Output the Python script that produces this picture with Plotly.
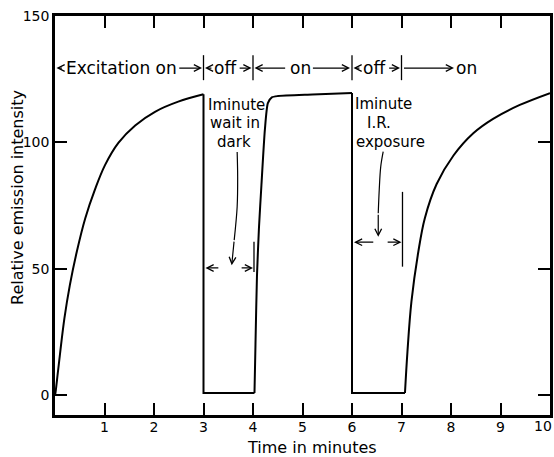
import plotly.graph_objects as go

# ---- data ----
# first excitation period: rise from 0
rise1_t = [0.0, 0.01, 0.067, 0.19, 0.30, 0.44, 0.61, 0.81, 1.01, 1.28, 1.62, 2.02, 2.49, 3.0]
rise1_y = [0.0, 1.0, 10.5, 30.3, 43.5, 56.7, 69.9, 81.5, 91.0, 99.8, 106.7, 112.1, 116.1, 119.0]
# 1 minute wait in dark
dark_t = [3.0, 3.0, 4.03]
dark_y = [119.0, 0.8, 0.8]
# second excitation period
rise2_t = [4.03, 4.05, 4.08, 4.12, 4.17, 4.24, 4.30, 4.38, 4.5, 5.2, 6.0]
rise2_y = [0.8, 20.0, 47.0, 66.0, 83.0, 105.0, 115.5, 117.8, 118.3, 118.9, 119.5]
# 1 minute I.R. exposure
ir_t = [6.0, 6.0, 7.07]
ir_y = [119.5, 0.8, 0.8]
# third excitation period
rise3_t = [7.07, 7.12, 7.20, 7.34, 7.47, 7.71, 8.05, 8.45, 8.85, 9.39, 10.0]
rise3_y = [0.8, 17.1, 36.9, 56.7, 69.9, 83.5, 94.8, 103.6, 109.3, 114.8, 119.5]

x_tick_vals = [1, 2, 3, 4, 5, 6, 7, 8, 9, 10]
x_tick_text = ["1", "2", "3", "4", "5", "6", "7", "8", "9", "10"]
y_tick_vals = [0, 50, 100, 150]
y_tick_text = ["0", "50", "100", "150"]

# phase labels along the top
phase_bounds = [3, 4, 6, 7]
phase_bar_y = [124.6, 134.5]
phase_row_y = 129.4
phase_labels = ["Excitation on", "off", "on", "off", "on"]
phase_label_x = [1.34, 3.45, 4.95, 6.45, 8.32]
# arrows of the phase row: (tail, tip)
phase_arrows = [(0.17, 0.03), (2.48, 2.97), (3.19, 3.03), (3.70, 3.97),
                (4.68, 4.03), (5.18, 5.96), (6.18, 6.03), (6.72, 6.97), (7.02, 8.06)]

# "1 minute wait in dark" note
dark_note_lines = ["Iminute", "wait in", "dark"]
dark_note_x = [3.66, 3.64, 3.62]
dark_note_y = [114.8, 107.6, 100.2]
dark_curve_t = [3.68, 3.69, 3.68, 3.62]
dark_curve_y = [96.2, 86.4, 74.5, 61.3]
dark_tip = (3.57, 51.4)
dark_span_y = 50.3
dark_span_arrows = [(3.33, 3.04), (3.74, 4.0)]
dark_bar_x = 4.02
dark_bar_y = [48.7, 60.7]

# "1 minute I.R. exposure" note
ir_note_lines = ["Iminute", "I.R.", "exposure"]
ir_note_x = [6.63, 6.55, 6.77]
ir_note_y = [115.0, 107.6, 100.2]
ir_curve_t = [6.63, 6.58, 6.55, 6.53]
ir_curve_y = [96.3, 90.3, 81.1, 71.9]
ir_tip = (6.53, 62.6)
ir_span_y = 60.5
ir_span_arrows = [(6.46, 6.04), (6.69, 7.0)]
ir_bar_x = 7.02
ir_bar_y = [50.8, 80.4]

FONT = "DejaVu Sans"
LINE = dict(color="black", width=2)
THIN = dict(color="black", width=1.3)

fig = go.Figure()
fig.add_trace(go.Scatter(x=rise1_t, y=rise1_y, mode="lines", line=dict(shape="spline", smoothing=1.0, **LINE)))
fig.add_trace(go.Scatter(x=dark_t, y=dark_y, mode="lines", line=LINE))
fig.add_trace(go.Scatter(x=rise2_t, y=rise2_y, mode="lines", line=dict(shape="spline", smoothing=0.6, **LINE)))
fig.add_trace(go.Scatter(x=ir_t, y=ir_y, mode="lines", line=LINE))
fig.add_trace(go.Scatter(x=rise3_t, y=rise3_y, mode="lines", line=dict(shape="spline", smoothing=1.0, **LINE)))

# phase bars
bx, by = [], []
for b in phase_bounds:
    bx += [b, b, None]
    by += [phase_bar_y[0], phase_bar_y[1], None]
bx += [dark_bar_x, dark_bar_x, None, ir_bar_x, ir_bar_x]
by += [dark_bar_y[0], dark_bar_y[1], None, ir_bar_y[0], ir_bar_y[1]]
fig.add_trace(go.Scatter(x=bx, y=by, mode="lines", line=THIN))

# curved pointer lines
fig.add_trace(go.Scatter(x=dark_curve_t, y=dark_curve_y, mode="lines", line=dict(shape="spline", color="black", width=1.2)))
fig.add_trace(go.Scatter(x=ir_curve_t, y=ir_curve_y, mode="lines", line=dict(shape="spline", color="black", width=1.2)))

ann = []
def arrow(tail_x, tail_y, tip_x, tip_y):
    ann.append(dict(x=tip_x, y=tip_y, ax=tail_x, ay=tail_y, xref="x", yref="y",
                    axref="x", ayref="y", text="", showarrow=True, arrowhead=5,
                    arrowsize=1.1, arrowwidth=1.2, arrowcolor="black", standoff=0, startstandoff=0))

def label(x, y, text, size):
    ann.append(dict(x=x, y=y, xref="x", yref="y", text=text, showarrow=False,
                    xanchor="center", yanchor="middle", font=dict(family=FONT, size=size, color="black")))

for lx, lt in zip(phase_label_x, phase_labels):
    label(lx, phase_row_y, lt, 17)
for tail, tip in phase_arrows:
    arrow(tail, phase_row_y, tip, phase_row_y)

for lx, ly, lt in zip(dark_note_x, dark_note_y, dark_note_lines):
    label(lx, ly, lt, 15)
for lx, ly, lt in zip(ir_note_x, ir_note_y, ir_note_lines):
    label(lx, ly, lt, 15)

arrow(dark_curve_t[-1], dark_curve_y[-1], dark_tip[0], dark_tip[1])
arrow(ir_curve_t[-1], ir_curve_y[-1], ir_tip[0], ir_tip[1])
for tail, tip in dark_span_arrows:
    arrow(tail, dark_span_y, tip, dark_span_y)
for tail, tip in ir_span_arrows:
    arrow(tail, ir_span_y, tip, ir_span_y)

# last x tick label, pulled in so it stays inside the picture
ann.append(dict(x=1.0081, y=-0.0276, xref="paper", yref="paper", text=x_tick_text[-1],
                showarrow=False, xanchor="right", yanchor="middle",
                font=dict(family=FONT, size=14, color="black")))

# axis titles
ann.append(dict(x=-0.0747, y=0.544, xref="paper", yref="paper", text="Relative emission intensity",
                textangle=-90, showarrow=False, xanchor="center", yanchor="middle",
                font=dict(family=FONT, size=16, color="black")))
ann.append(dict(x=0.519, y=-0.0827, xref="paper", yref="paper", text="Time in minutes",
                showarrow=False, xanchor="center", yanchor="middle",
                font=dict(family=FONT, size=16, color="black")))

axis_common = dict(showline=True, linewidth=2.5, linecolor="black", mirror="ticks",
                   ticks="inside", ticklen=12, tickwidth=1.5, tickcolor="black",
                   showgrid=False, zeroline=False, automargin=False,
                   tickfont=dict(family=FONT, size=14, color="black"))

fig.update_layout(
    width=554, height=457,
    margin=dict(l=55, r=4, t=16, b=42, autoexpand=False),
    paper_bgcolor="white", plot_bgcolor="white",
    showlegend=False,
    annotations=ann,
    xaxis=dict(range=[0, 10], tickvals=x_tick_vals, ticktext=x_tick_text[:-1] + [""],
               ticklabelstandoff=-3, **axis_common),
    yaxis=dict(range=[-7.9, 150], tickvals=y_tick_vals, ticktext=y_tick_text, **axis_common),
)

fig.write_html("out.html")
